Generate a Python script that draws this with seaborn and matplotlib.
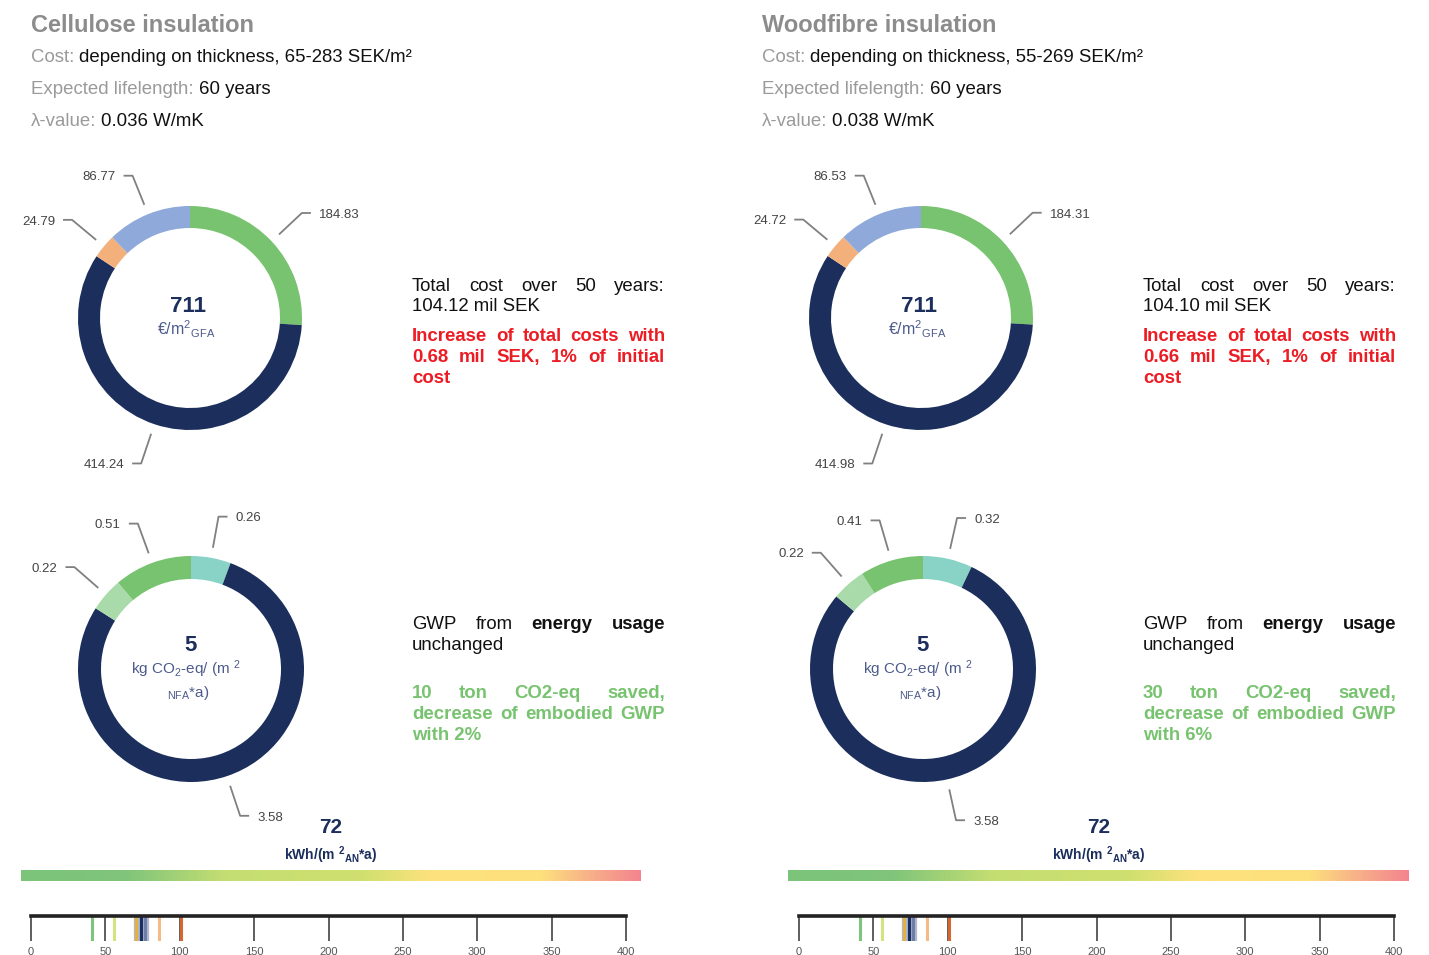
import numpy as np
import seaborn as sns
import matplotlib.pyplot as plt
from matplotlib.colors import LinearSegmentedColormap

sns.set_theme(style="white")
plt.rcParams['font.family'] = ['Liberation Sans', 'DejaVu Sans']
plt.rcParams['mathtext.default'] = 'regular'

# ---------------- data ----------------
titles = ["Cellulose insulation", "Woodfibre insulation"]
cost_ranges = ["65-283", "55-269"]
lifelengths = [60, 60]
lambda_values = ["0.036", "0.038"]

# cost donut, clockwise from 12 o'clock
cost_left = [184.83, 414.24, 24.79, 86.77]
cost_right = [184.31, 414.98, 24.72, 86.53]
cost_totals = [711, 711]

# GWP donut, clockwise from 12 o'clock
gwp_left = [0.26, 3.58, 0.22, 0.51]
gwp_right = [0.32, 3.58, 0.22, 0.41]
gwp_totals = [5, 5]

total_cost_50y = ["104.12", "104.10"]
cost_increase = ["0.68", "0.66"]
cost_increase_pct = [1, 1]
co2_saved = [10, 30]
gwp_decrease_pct = [2, 6]

energy_use = [72, 72]
scale_ticks = [0, 50, 100, 150, 200, 250, 300, 350, 400]
ref_names = ["A", "B", "C", "D", "E", "F", "G"]
ref_values = [41, 56, 70.5, 74, 76.5, 86, 101]
ref_band = [71.5, 74.5, 77.5]

# ---------------- style ----------------
W, H = 1429, 955
NAVY = '#1b2e5c'
GREEN = '#78c36f'
RED = '#ec1c24'
BODY = 13.4
cost_colors = [GREEN, NAVY, '#f4b07b', '#8ea9da']
gwp_colors = ['#88d3c6', NAVY, '#a9dbaa', GREEN]
ref_colors = ['#7dc57c', '#d5e37e', '#e2b23c', NAVY, '#6f7ca3', '#f5b98a', '#d7672c']
grad = LinearSegmentedColormap.from_list('energy', [
    (0.0, '#7bc47b'), (0.17, '#80c57a'), (0.33, '#c5de72'), (0.55, '#cfe06f'),
    (0.66, '#fde27c'), (0.84, '#fde07c'), (0.92, '#f8b08a'), (1.0, '#f4848e')])

panels = [
    dict(x=31, cost=cost_left, gwp=gwp_left, cc=(190, 318), gc=(191, 669),
         tx=(412, 665), gx=(21, 641), sx=(31, 626)),
    dict(x=762, cost=cost_right, gwp=gwp_right, cc=(921, 318), gc=(923, 669),
         tx=(1143, 1396), gx=(788, 1409), sx=(799, 1394)),
]

fig = plt.figure(figsize=(W / 100, H / 100), dpi=100)
bg = fig.add_axes([0, 0, 1, 1])
bg.set_xlim(0, W)
bg.set_ylim(0, H)
bg.axis('off')
renderer = fig.canvas.get_renderer()


def Y(y):
    return H - y


def base(y, size):
    # vertical centre of caps -> baseline
    return Y(y + 0.36 * size * 100 / 72)


def width(t):
    return t.get_window_extent(renderer).width


def runs(x, y, parts, size):
    probe = bg.text(0, 0, "x x", fontsize=size)
    probe2 = bg.text(0, 0, "xx", fontsize=size)
    sp = width(probe) - width(probe2)
    probe.remove()
    probe2.remove()
    for txt, color, wt in parts:
        t = bg.text(x, base(y, size), txt, fontsize=size, color=color,
                    fontweight=wt, va='baseline', ha='left')
        x += width(t) + sp


def justify(x0, x1, y, words, size, color, weights=None):
    weights = weights or ['normal'] * len(words)
    ts = [bg.text(0, base(y, size), w, fontsize=size, color=color, fontweight=wt,
                  va='baseline', ha='left') for w, wt in zip(words, weights)]
    ws = [width(t) for t in ts]
    gap = (x1 - x0 - sum(ws)) / (len(ts) - 1)
    x = x0
    for t, w in zip(ts, ws):
        t.set_x(x)
        x += w + gap


def donut(vals, colors, c, R, ring):
    cx, cy = c[0], Y(c[1])
    wedges, _ = bg.pie(vals, colors=colors, radius=R, center=(cx, cy), startangle=90,
                       counterclock=False, frame=True,
                       wedgeprops=dict(width=ring, linewidth=0, edgecolor='none'))
    for w, v in zip(wedges, vals):
        a = np.deg2rad((w.theta1 + w.theta2) / 2)
        ca, sa = np.cos(a), np.sin(a)
        x1, y1 = cx + 1.09 * R * ca, cy + 1.09 * R * sa
        x2, y2 = cx + 1.37 * R * ca, cy + 1.37 * R * sa
        sg = 1 if ca >= 0 else -1
        x3 = x2 + sg * 9
        bg.plot([x1, x2, x3], [y1, y2, y2], color='#808080', lw=1.3, solid_capstyle='butt')
        bg.text(x3 + sg * 8, y2 - 0.36 * 9.5 * 100 / 72, f"{v:.2f}", fontsize=9.5,
                color='#444444', ha='left' if sg > 0 else 'right', va='baseline')


for i, p in enumerate(panels):
    x = p['x']
    bg.text(x, base(24, 17), titles[i], fontsize=17, fontweight='bold', color='#8c8c8c',
            va='baseline')
    runs(x, 55, [("Cost:", '#9a9a9a', 'normal'),
                 (f"depending on thickness, {cost_ranges[i]} SEK/m²", '#111111', 'normal')], BODY)
    runs(x, 87, [("Expected lifelength:", '#9a9a9a', 'normal'),
                 (f"{lifelengths[i]} years", '#111111', 'normal')], BODY)
    runs(x, 119, [("λ-value:", '#9a9a9a', 'normal'),
                  (f"{lambda_values[i]} W/mK", '#111111', 'normal')], BODY)

    # cost donut
    donut(p['cost'], cost_colors, p['cc'], 112, 22)
    ccx, ccy = p['cc']
    bg.text(ccx - 2, base(ccy - 14, 16), f"{cost_totals[i]}", fontsize=16, fontweight='bold',
            color=NAVY, ha='center', va='baseline')
    bg.text(ccx - 4, base(ccy + 12, 11.5), r"€/m$^{2}$$_{GFA}$", fontsize=11.5,
            color='#4d5b8c', ha='center', va='baseline')

    # GWP donut
    donut(p['gwp'], gwp_colors, p['gc'], 113, 23)
    gcx, gcy = p['gc']
    bg.text(gcx, base(gcy - 26, 16), f"{gwp_totals[i]}", fontsize=16, fontweight='bold',
            color=NAVY, ha='center', va='baseline')
    bg.text(gcx - 5, base(gcy - 1, 11), r"kg CO$_{2}$-eq/ (m $^{2}$", fontsize=11,
            color='#4d5b8c', ha='center', va='baseline')
    bg.text(gcx - 3, base(gcy + 23, 11), r"$_{NFA}$*a)", fontsize=11,
            color='#4d5b8c', ha='center', va='baseline')

    # cost text
    x0, x1 = p['tx']
    justify(x0, x1, 284, ["Total", "cost", "over", "50", "years:"], BODY, '#111111')
    runs(x0, 304, [(f"{total_cost_50y[i]} mil SEK", '#111111', 'normal')], BODY)
    justify(x0, x1, 334, ["Increase", "of", "total", "costs", "with"], BODY, RED, ['bold'] * 5)
    justify(x0, x1, 355, [cost_increase[i], "mil", "SEK,", f"{cost_increase_pct[i]}%", "of", "initial"],
            BODY, RED, ['bold'] * 6)
    runs(x0, 376, [("cost", RED, 'bold')], BODY)

    # GWP text
    justify(x0, x1, 622, ["GWP", "from", "energy", "usage"], BODY, '#111111',
            ['normal', 'normal', 'bold', 'bold'])
    runs(x0, 643, [("unchanged", '#111111', 'normal')], BODY)
    justify(x0, x1, 691, [f"{co2_saved[i]}", "ton", "CO2-eq", "saved,"], BODY, GREEN, ['bold'] * 4)
    justify(x0, x1, 712, ["decrease", "of", "embodied", "GWP"], BODY, GREEN, ['bold'] * 4)
    runs(x0, 733, [(f"with {gwp_decrease_pct[i]}%", GREEN, 'bold')], BODY)

    # energy scale
    g0, g1 = p['gx']
    gc = (g0 + g1) / 2
    bg.text(gc, base(825, 15), f"{energy_use[i]}", fontsize=15, fontweight='bold', color=NAVY,
            ha='center', va='baseline')
    bg.text(gc, base(855, 10), r"kWh/(m $^{2}$$_{AN}$*a)", fontsize=10, fontweight='bold',
            color=NAVY, ha='center', va='baseline')
    bg.imshow(np.linspace(0, 1, 512)[None, :], cmap=grad, aspect='auto',
              extent=[g0, g1, Y(881), Y(870)], interpolation='bilinear')

    s0, s1 = p['sx']
    sax = fig.add_axes([s0 / W, Y(941) / H, (s1 - s0) / W, 25 / H])
    sax.set_facecolor('none')
    sns.rugplot(x=ref_band, height=1, linewidth=4.5, color='#a3acc8', alpha=0.85, ax=sax,
                expand_margins=False)
    sns.rugplot(x=ref_values, hue=ref_names, palette=dict(zip(ref_names, ref_colors)),
                height=1, linewidth=2.2, legend=False, ax=sax, expand_margins=False)
    sax.set_xlim(0, 400)
    sax.set_ylim(0, 1)
    sax.set_xticks(scale_ticks)
    sax.set_yticks([])
    sax.tick_params(axis='x', direction='in', length=18, width=1.1, color='#333333',
                    labelsize=8, labelcolor='#555555', pad=4, bottom=True)
    for s in ['left', 'right', 'bottom']:
        sax.spines[s].set_visible(False)
    sax.spines['top'].set_linewidth(2.6)
    sax.spines['top'].set_color('#222222')

bg.set_xlim(0, W)
bg.set_ylim(0, H)
bg.set_aspect('auto')
bg.axis('off')

plt.savefig('out.png', dpi=100, facecolor='white')
